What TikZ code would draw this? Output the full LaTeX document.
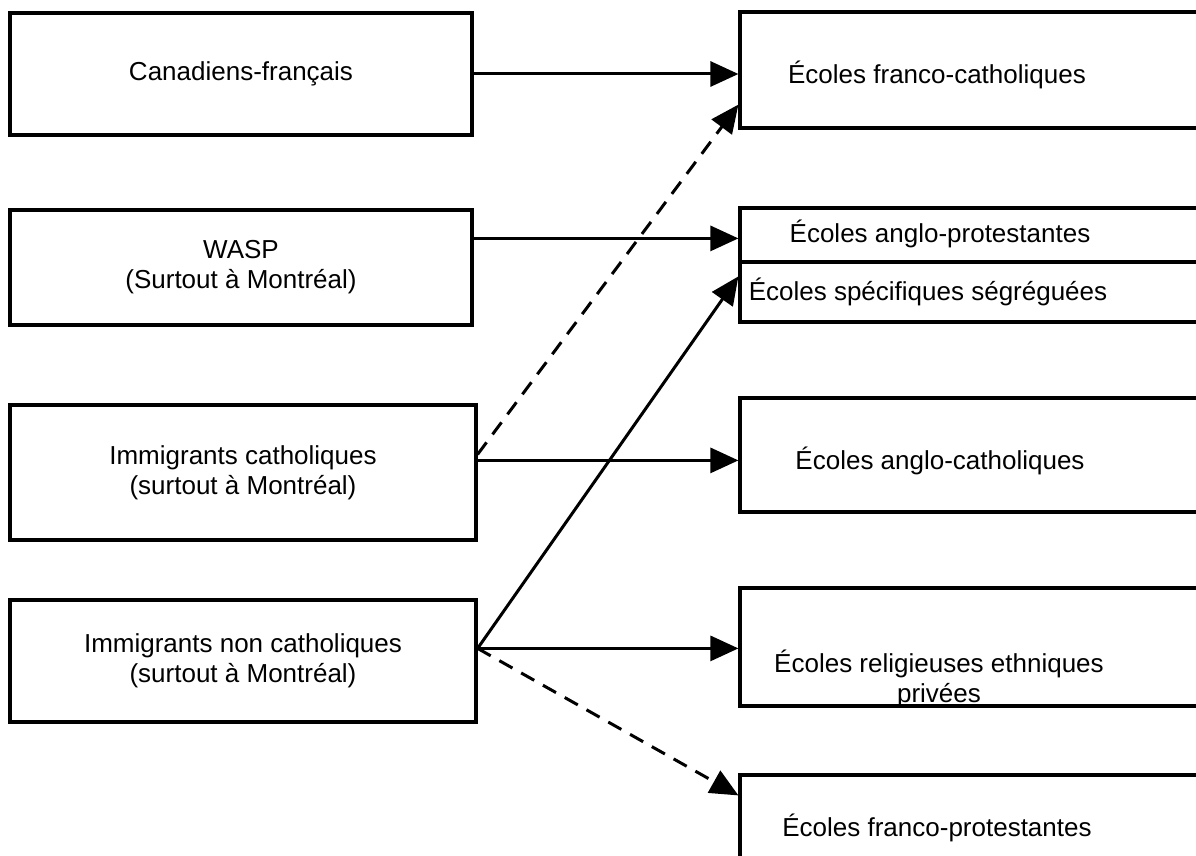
\documentclass[tikz,border=0pt]{standalone}
\usepackage{fontspec}
\setmainfont{Liberation Sans}
\usetikzlibrary{arrows.meta,calc}
\begin{document}
\begin{tikzpicture}[x=1pt,y=-1pt,
  box/.style={draw, line width=3.2pt, inner sep=0pt},
  lbl/.style={font=\fontsize{26}{30}\selectfont, align=center, inner sep=0pt},
  arr/.style={line width=3pt, -{Triangle[length=28pt,width=25pt]}},
  darr/.style={arr, dash pattern=on 15pt off 10pt}]
\useasboundingbox (0,0) rectangle (1196,856);
\clip (0,0) rectangle (1196,856);
% left boxes
\node[box, lbl, minimum width=462pt, minimum height=122pt] (b1) at (241,74) {Canadiens-français};
\node[box, lbl, minimum width=462pt, minimum height=115pt] (b2) at (241,267.5) {WASP\\(Surtout à Montréal)};
\node[box, lbl, minimum width=466pt, minimum height=135pt] (b3) at (243,472.5) {Immigrants catholiques\\(surtout à Montréal)};
\node[box, lbl, minimum width=466pt, minimum height=122pt] (b4) at (243,661) {Immigrants non catholiques\\(surtout à Montréal)};
% right boxes
\node[box, minimum width=480pt, minimum height=116pt] (r1) at (980,70) {};
\node[box, minimum width=480pt, minimum height=54pt] (r2a) at (980,235) {};
\node[box, minimum width=480pt, minimum height=60pt] (r2b) at (980,292) {};
\node[box, minimum width=480pt, minimum height=114pt] (r3) at (980,455) {};
\node[box, minimum width=480pt, minimum height=118pt] (r4) at (980,647) {};
\node[box, minimum width=480pt, minimum height=105pt] (r5) at (980,827.5) {};
\node[lbl] (t1) at (937,75) {Écoles franco-catholiques};
\node[lbl] (t2a) at (940,234) {Écoles anglo-protestantes};
\node[lbl] (t2b) at (928,292) {Écoles spécifiques ségréguées};
\node[lbl] (t3) at (940,461) {Écoles anglo-catholiques};
\node[lbl] (t4) at (939,679) {Écoles religieuses ethniques\\privées};
\node[lbl] (t5) at (937,828) {Écoles franco-protestantes};
% connector origins
\coordinate (b2o) at ($(b2.north east)+(0,30)$);
\coordinate (b3o) at ($(b3.north east)+(0,57)$);
\coordinate (b3d) at ($(b3.north east)+(0,51)$);
\coordinate (b4o) at ($(b4.north east)+(0,50)$);
\coordinate (r1d) at ($(r1.south west)+(0,-25)$);
\coordinate (r2s) at ($(r2b.north west)+(0,16)$);
\coordinate (r5d) at ($(r5.north west)+(0,22)$);
% connectors
\draw[arr] (b1.east) -- (b1.east -| r1.west);
\draw[arr] (b2o) -- (b2o -| r2a.west);
\draw[arr] (b3o) -- (b3o -| r3.west);
\draw[darr] (b3d) -- (r1d);
\draw[arr] (b4o) -- (r2s);
\draw[arr] (b4o) -- (b4o -| r4.west);
\draw[darr] (b4o) -- (r5d);
\end{tikzpicture}
\end{document}
